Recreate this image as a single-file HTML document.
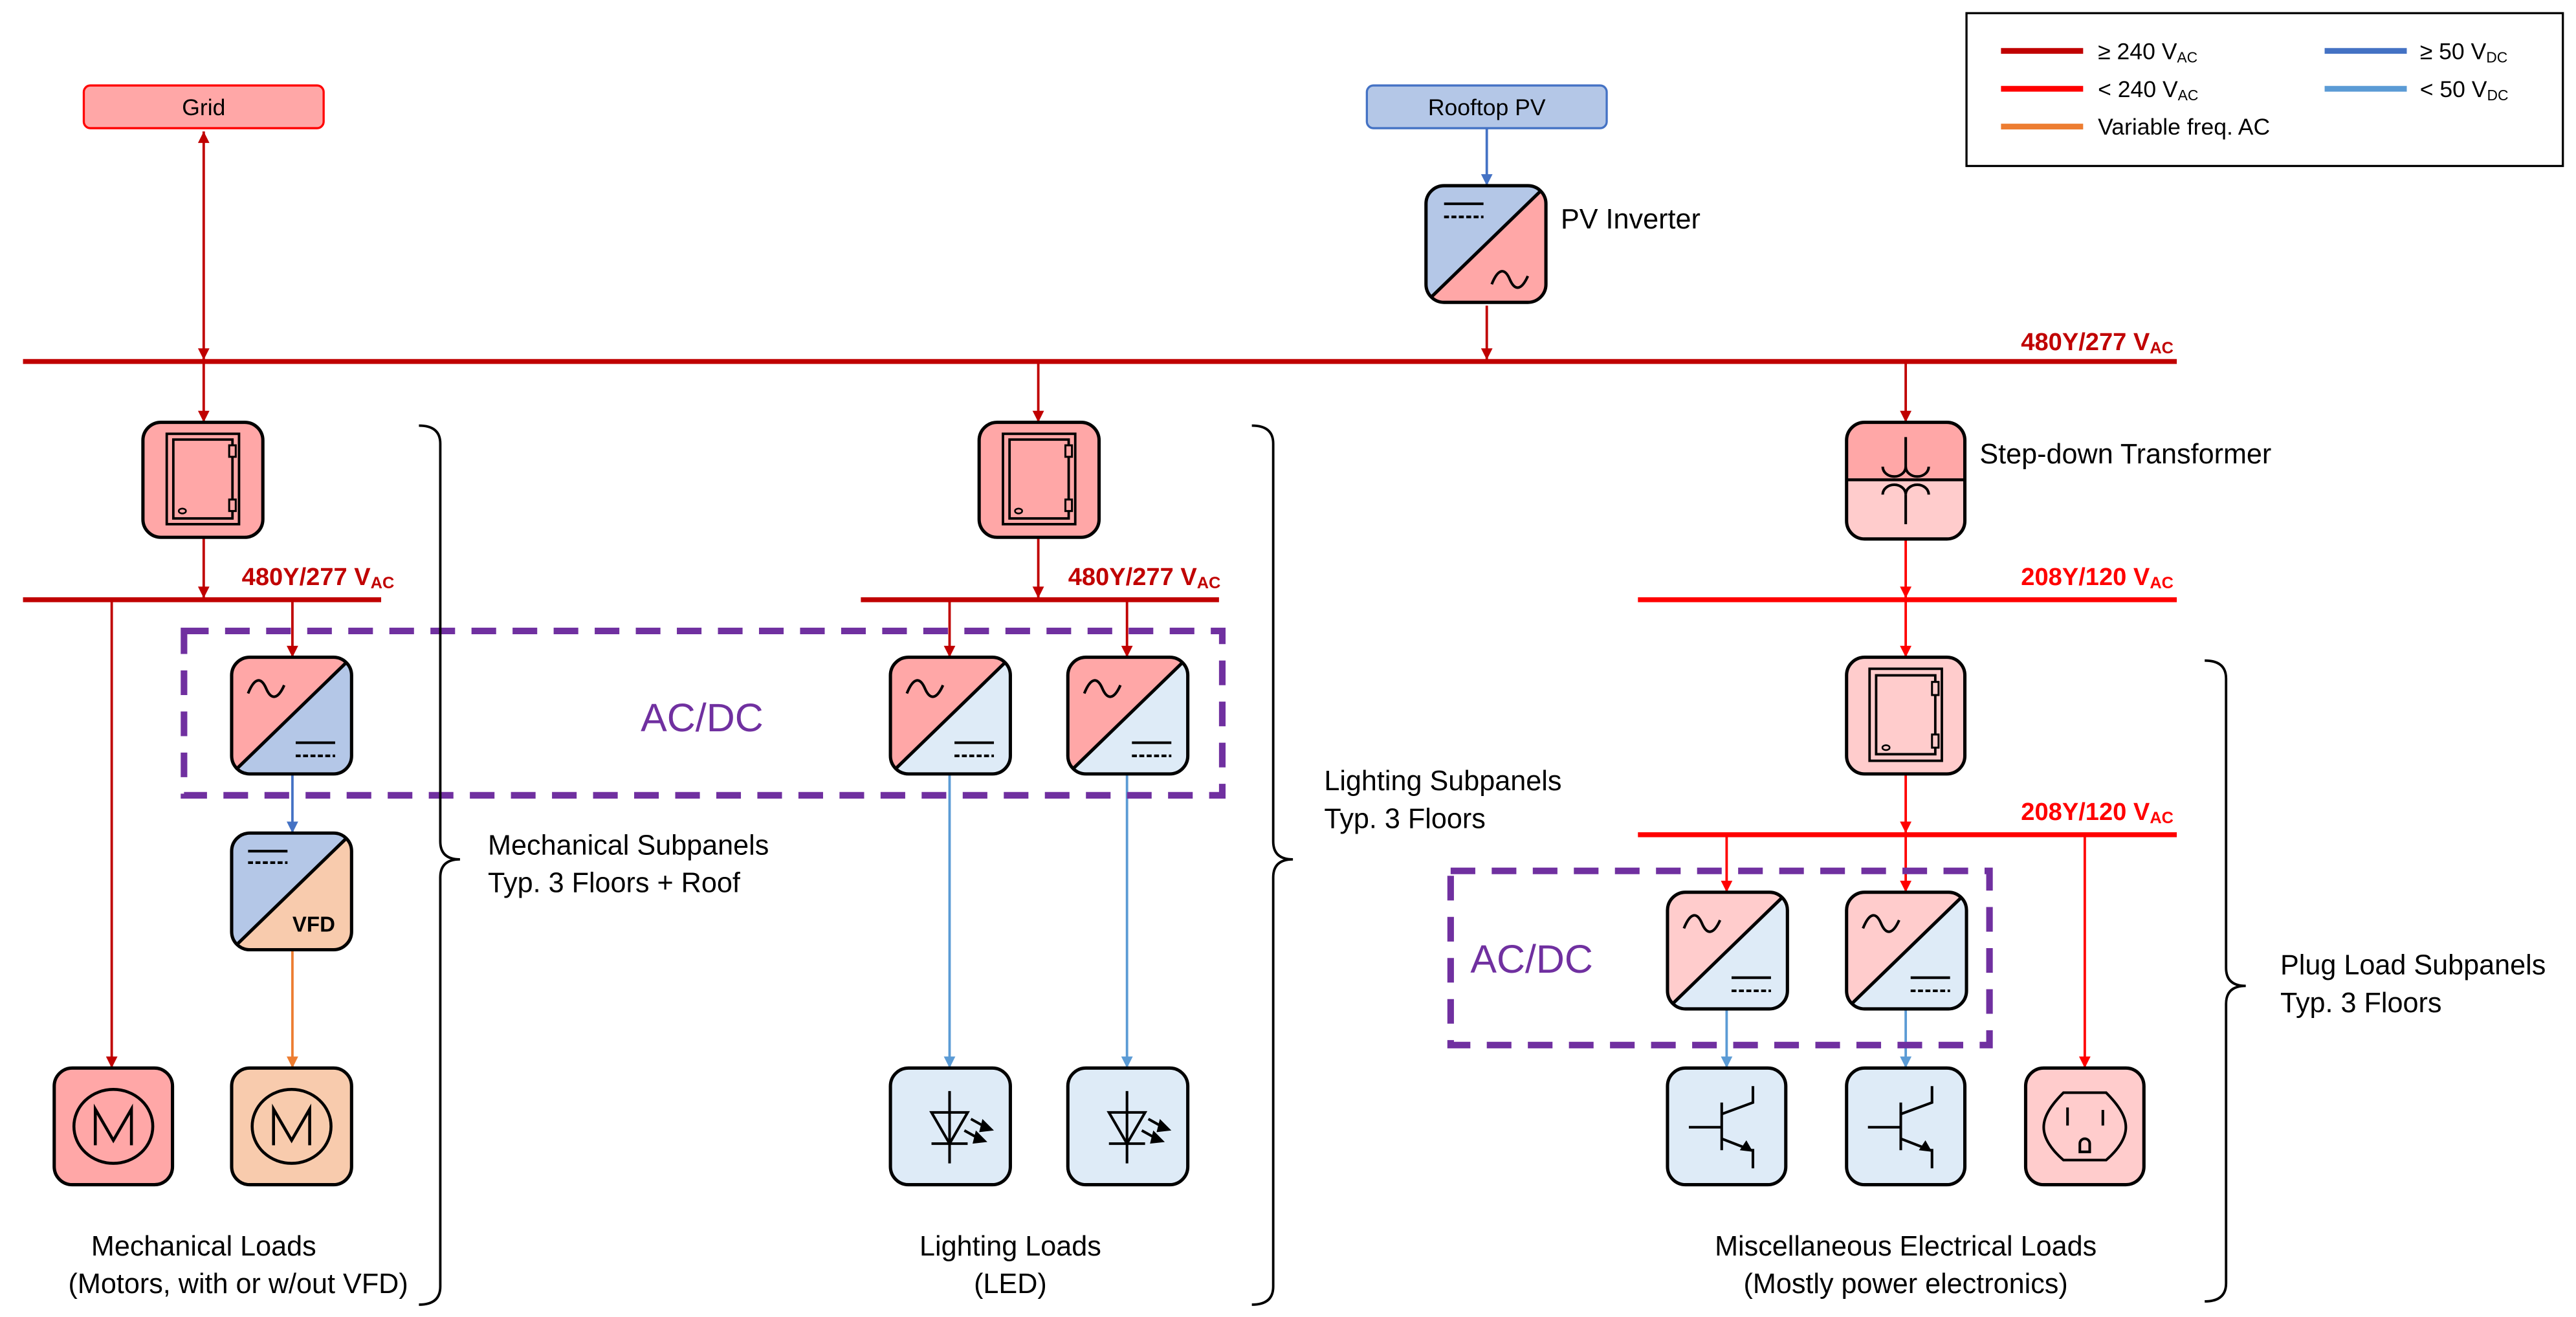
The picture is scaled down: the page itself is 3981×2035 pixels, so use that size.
<!DOCTYPE html>
<html><head><meta charset="utf-8"><style>
html,body{margin:0;padding:0;background:#fff;}
svg{display:block;}
text{font-family:"Liberation Sans",sans-serif;}
</style></head><body>
<svg width="3981" height="2035" viewBox="0 0 1568 801.5" xmlns="http://www.w3.org/2000/svg">
<defs>
<clipPath id="cb"><rect width="73" height="71" rx="11"/></clipPath>
<marker id="mDR" viewBox="0 0 10 10" refX="10" refY="5" markerWidth="8" markerHeight="7" markerUnits="userSpaceOnUse" orient="auto-start-reverse"><path d="M0,0L10,5L0,10z" fill="#c00000"/></marker>
<marker id="mR" viewBox="0 0 10 10" refX="10" refY="5" markerWidth="8" markerHeight="7" markerUnits="userSpaceOnUse" orient="auto-start-reverse"><path d="M0,0L10,5L0,10z" fill="#ff0000"/></marker>
<marker id="mB" viewBox="0 0 10 10" refX="10" refY="5" markerWidth="8" markerHeight="7" markerUnits="userSpaceOnUse" orient="auto-start-reverse"><path d="M0,0L10,5L0,10z" fill="#4472c4"/></marker>
<marker id="mLB" viewBox="0 0 10 10" refX="10" refY="5" markerWidth="8" markerHeight="7" markerUnits="userSpaceOnUse" orient="auto-start-reverse"><path d="M0,0L10,5L0,10z" fill="#5b9bd5"/></marker>
<marker id="mO" viewBox="0 0 10 10" refX="10" refY="5" markerWidth="8" markerHeight="7" markerUnits="userSpaceOnUse" orient="auto-start-reverse"><path d="M0,0L10,5L0,10z" fill="#ed7d31"/></marker>
</defs>

<!-- Legend -->
<rect x="1197" y="8" width="363" height="93" fill="#fff" stroke="#000" stroke-width="1.3"/>
<g stroke-width="3.5">
<line x1="1218" y1="31" x2="1268" y2="31" stroke="#c00000"/>
<line x1="1218" y1="54" x2="1268" y2="54" stroke="#ff0000"/>
<line x1="1218" y1="77" x2="1268" y2="77" stroke="#ed7d31"/>
<line x1="1415" y1="31" x2="1465" y2="31" stroke="#4472c4"/>
<line x1="1415" y1="54" x2="1465" y2="54" stroke="#5b9bd5"/>
</g>
<g font-size="14" fill="#000">
<text x="1277" y="36">≥ 240 V<tspan font-size="9" dy="2">AC</tspan></text>
<text x="1277" y="59">&lt; 240 V<tspan font-size="9" dy="2">AC</tspan></text>
<text x="1277" y="82">Variable freq. AC</text>
<text x="1473" y="36">≥ 50 V<tspan font-size="9" dy="2">DC</tspan></text>
<text x="1473" y="59">&lt; 50 V<tspan font-size="9" dy="2">DC</tspan></text>
</g>

<!-- Source boxes -->
<rect x="51" y="52" width="146" height="26" rx="4" fill="#ffa7a7" stroke="#ff0000" stroke-width="1.3"/>
<text x="124" y="70" font-size="14" text-anchor="middle">Grid</text>
<rect x="832" y="52" width="146" height="26" rx="4" fill="#b4c7e7" stroke="#4472c4" stroke-width="1.3"/>
<text x="905" y="70" font-size="14" text-anchor="middle">Rooftop PV</text>

<!-- Connectors -->
<g stroke-width="1.5" fill="none">
<line x1="124" y1="80" x2="124" y2="219" stroke="#c00000" marker-start="url(#mDR)" marker-end="url(#mDR)"/>
<line x1="124" y1="221" x2="124" y2="257" stroke="#c00000" marker-end="url(#mDR)"/>
<line x1="905" y1="78" x2="905" y2="113" stroke="#4472c4" marker-end="url(#mB)"/>
<line x1="905" y1="186" x2="905" y2="219" stroke="#c00000" marker-end="url(#mDR)"/>
<line x1="632" y1="221" x2="632" y2="257" stroke="#c00000" marker-end="url(#mDR)"/>
<line x1="1160" y1="221" x2="1160" y2="257" stroke="#c00000" marker-end="url(#mDR)"/>
<line x1="124" y1="327" x2="124" y2="364" stroke="#c00000" marker-end="url(#mDR)"/>
<line x1="632" y1="327" x2="632" y2="364" stroke="#c00000" marker-end="url(#mDR)"/>
<line x1="68" y1="366" x2="68" y2="650" stroke="#c00000" marker-end="url(#mDR)"/>
<line x1="178" y1="366" x2="178" y2="400" stroke="#c00000" marker-end="url(#mDR)"/>
<line x1="578" y1="366" x2="578" y2="400" stroke="#c00000" marker-end="url(#mDR)"/>
<line x1="686" y1="366" x2="686" y2="400" stroke="#c00000" marker-end="url(#mDR)"/>
<line x1="178" y1="471" x2="178" y2="507" stroke="#4472c4" marker-end="url(#mB)"/>
<line x1="178" y1="578" x2="178" y2="650" stroke="#ed7d31" marker-end="url(#mO)"/>
<line x1="578" y1="471" x2="578" y2="650" stroke="#5b9bd5" marker-end="url(#mLB)"/>
<line x1="686" y1="471" x2="686" y2="650" stroke="#5b9bd5" marker-end="url(#mLB)"/>
<line x1="1160" y1="328" x2="1160" y2="364" stroke="#ff0000" marker-end="url(#mR)"/>
<line x1="1160" y1="366" x2="1160" y2="400" stroke="#ff0000" marker-end="url(#mR)"/>
<line x1="1160" y1="471" x2="1160" y2="507" stroke="#ff0000" marker-end="url(#mR)"/>
<line x1="1051" y1="509" x2="1051" y2="543" stroke="#ff0000" marker-end="url(#mR)"/>
<line x1="1160" y1="509" x2="1160" y2="543" stroke="#ff0000" marker-end="url(#mR)"/>
<line x1="1269" y1="509" x2="1269" y2="650" stroke="#ff0000" marker-end="url(#mR)"/>
<line x1="1051" y1="613" x2="1051" y2="650" stroke="#5b9bd5" marker-end="url(#mLB)"/>
<line x1="1160" y1="613" x2="1160" y2="650" stroke="#5b9bd5" marker-end="url(#mLB)"/>
</g>

<!-- Buses -->
<g stroke-width="3">
<line x1="14" y1="220" x2="1325" y2="220" stroke="#c00000"/>
<line x1="14" y1="365" x2="232" y2="365" stroke="#c00000"/>
<line x1="524" y1="365" x2="742" y2="365" stroke="#c00000"/>
<line x1="997" y1="365" x2="1325" y2="365" stroke="#ff0000"/>
<line x1="997" y1="508" x2="1325" y2="508" stroke="#ff0000"/>
</g>
<g font-size="15" font-weight="bold" text-anchor="end">
<text x="1323" y="213" fill="#c00000">480Y/277 V<tspan font-size="10" dy="2">AC</tspan></text>
<text x="240" y="356" fill="#c00000">480Y/277 V<tspan font-size="10" dy="2">AC</tspan></text>
<text x="743" y="356" fill="#c00000">480Y/277 V<tspan font-size="10" dy="2">AC</tspan></text>
<text x="1323" y="356" fill="#ff0000">208Y/120 V<tspan font-size="10" dy="2">AC</tspan></text>
<text x="1323" y="499" fill="#ff0000">208Y/120 V<tspan font-size="10" dy="2">AC</tspan></text>
</g>

<!-- PV inverter -->
<g transform="translate(868,113)">
<rect width="73" height="71" rx="11" fill="#b4c7e7"/>
<polygon points="73,0 73,71 0,71" fill="#ffa7a7" clip-path="url(#cb)"/>
<line x1="3" y1="68" x2="70" y2="3" stroke="#000" stroke-width="2"/>
<rect width="73" height="71" rx="11" fill="none" stroke="#000" stroke-width="2"/>
<line x1="11" y1="11" x2="35" y2="11" stroke="#000" stroke-width="1.6"/>
<line x1="11" y1="19" x2="35" y2="19" stroke="#000" stroke-width="1.6" stroke-dasharray="3 1.5"/>
<path d="M40,60 C44,50 48,50 51,57 C54,64 58,64 62,55" stroke="#000" stroke-width="1.6" fill="none"/>
</g>
<text x="950" y="139" font-size="17">PV Inverter</text>

<!-- Panels -->
<g transform="translate(87,257)">
<rect width="73" height="70" rx="11" fill="#ffa7a7" stroke="#000" stroke-width="2"/>
<rect x="14.5" y="7" width="44" height="55" fill="none" stroke="#000" stroke-width="1.5"/>
<rect x="18.5" y="10.5" width="36" height="48" fill="none" stroke="#000" stroke-width="1.5"/>
<rect x="52.5" y="14" width="4" height="7" fill="#ffa7a7" stroke="#000" stroke-width="1.2"/>
<rect x="52.5" y="47" width="4" height="7" fill="#ffa7a7" stroke="#000" stroke-width="1.2"/>
<ellipse cx="24" cy="54" rx="2.2" ry="1.5" fill="none" stroke="#000" stroke-width="1"/>
</g>
<g transform="translate(596,257)">
<rect width="73" height="70" rx="11" fill="#ffa7a7" stroke="#000" stroke-width="2"/>
<rect x="14.5" y="7" width="44" height="55" fill="none" stroke="#000" stroke-width="1.5"/>
<rect x="18.5" y="10.5" width="36" height="48" fill="none" stroke="#000" stroke-width="1.5"/>
<rect x="52.5" y="14" width="4" height="7" fill="#ffa7a7" stroke="#000" stroke-width="1.2"/>
<rect x="52.5" y="47" width="4" height="7" fill="#ffa7a7" stroke="#000" stroke-width="1.2"/>
<ellipse cx="24" cy="54" rx="2.2" ry="1.5" fill="none" stroke="#000" stroke-width="1"/>
</g>
<g transform="translate(1124,400)">
<rect width="72" height="71" rx="11" fill="#ffcccc" stroke="#000" stroke-width="2"/>
<rect x="14" y="7" width="44" height="56" fill="none" stroke="#000" stroke-width="1.5"/>
<rect x="18" y="11" width="36" height="48" fill="none" stroke="#000" stroke-width="1.5"/>
<rect x="52" y="15" width="4" height="8" fill="#ffcccc" stroke="#000" stroke-width="1.2"/>
<rect x="52" y="47" width="4" height="8" fill="#ffcccc" stroke="#000" stroke-width="1.2"/>
<ellipse cx="24" cy="55" rx="2.2" ry="1.5" fill="none" stroke="#000" stroke-width="1"/>
</g>

<!-- Transformer -->
<g transform="translate(1124,257)">
<rect width="72" height="71" rx="11" fill="#ffcccc"/>
<path d="M0,35 V11 A11,11 0 0 1 11,0 H61 A11,11 0 0 1 72,11 V35 Z" fill="#ffa7a7"/>
<line x1="0" y1="35" x2="72" y2="35" stroke="#000" stroke-width="1.8"/>
<rect width="72" height="71" rx="11" fill="none" stroke="#000" stroke-width="2"/>
<g stroke="#000" stroke-width="1.6" fill="none">
<line x1="36" y1="9" x2="36" y2="28"/>
<path d="M22,27 A7,6 0 0 0 36,27 A7,6 0 0 0 50,27"/>
<path d="M22,44 A7,6 0 0 1 36,44 A7,6 0 0 1 50,44"/>
<line x1="36" y1="44" x2="36" y2="62"/>
</g>
</g>
<text x="1205" y="282" font-size="17">Step-down Transformer</text>

<!-- AC/DC converters -->
<g transform="translate(141,400)">
<rect width="73" height="71" rx="11" fill="#ffa7a7"/>
<polygon points="73,0 73,71 0,71" fill="#b4c7e7" clip-path="url(#cb)"/>
<line x1="3" y1="68" x2="70" y2="3" stroke="#000" stroke-width="2"/>
<rect width="73" height="71" rx="11" fill="none" stroke="#000" stroke-width="2"/>
<path d="M10,22 C14,12 18,12 21,19 C24,26 28,26 32,17" stroke="#000" stroke-width="1.6" fill="none"/>
<line x1="39" y1="52" x2="63" y2="52" stroke="#000" stroke-width="1.6"/>
<line x1="39" y1="60" x2="63" y2="60" stroke="#000" stroke-width="1.6" stroke-dasharray="3 1.5"/>
</g>
<g transform="translate(542,400)">
<rect width="73" height="71" rx="11" fill="#ffa7a7"/>
<polygon points="73,0 73,71 0,71" fill="#deebf7" clip-path="url(#cb)"/>
<line x1="3" y1="68" x2="70" y2="3" stroke="#000" stroke-width="2"/>
<rect width="73" height="71" rx="11" fill="none" stroke="#000" stroke-width="2"/>
<path d="M10,22 C14,12 18,12 21,19 C24,26 28,26 32,17" stroke="#000" stroke-width="1.6" fill="none"/>
<line x1="39" y1="52" x2="63" y2="52" stroke="#000" stroke-width="1.6"/>
<line x1="39" y1="60" x2="63" y2="60" stroke="#000" stroke-width="1.6" stroke-dasharray="3 1.5"/>
</g>
<g transform="translate(650,400)">
<rect width="73" height="71" rx="11" fill="#ffa7a7"/>
<polygon points="73,0 73,71 0,71" fill="#deebf7" clip-path="url(#cb)"/>
<line x1="3" y1="68" x2="70" y2="3" stroke="#000" stroke-width="2"/>
<rect width="73" height="71" rx="11" fill="none" stroke="#000" stroke-width="2"/>
<path d="M10,22 C14,12 18,12 21,19 C24,26 28,26 32,17" stroke="#000" stroke-width="1.6" fill="none"/>
<line x1="39" y1="52" x2="63" y2="52" stroke="#000" stroke-width="1.6"/>
<line x1="39" y1="60" x2="63" y2="60" stroke="#000" stroke-width="1.6" stroke-dasharray="3 1.5"/>
</g>
<g transform="translate(1015,543)">
<rect width="73" height="71" rx="11" fill="#ffcccc"/>
<polygon points="73,0 73,71 0,71" fill="#deebf7" clip-path="url(#cb)"/>
<line x1="3" y1="68" x2="70" y2="3" stroke="#000" stroke-width="2"/>
<rect width="73" height="71" rx="11" fill="none" stroke="#000" stroke-width="2"/>
<path d="M10,22 C14,12 18,12 21,19 C24,26 28,26 32,17" stroke="#000" stroke-width="1.6" fill="none"/>
<line x1="39" y1="52" x2="63" y2="52" stroke="#000" stroke-width="1.6"/>
<line x1="39" y1="60" x2="63" y2="60" stroke="#000" stroke-width="1.6" stroke-dasharray="3 1.5"/>
</g>
<g transform="translate(1124,543)">
<rect width="73" height="71" rx="11" fill="#ffcccc"/>
<polygon points="73,0 73,71 0,71" fill="#deebf7" clip-path="url(#cb)"/>
<line x1="3" y1="68" x2="70" y2="3" stroke="#000" stroke-width="2"/>
<rect width="73" height="71" rx="11" fill="none" stroke="#000" stroke-width="2"/>
<path d="M10,22 C14,12 18,12 21,19 C24,26 28,26 32,17" stroke="#000" stroke-width="1.6" fill="none"/>
<line x1="39" y1="52" x2="63" y2="52" stroke="#000" stroke-width="1.6"/>
<line x1="39" y1="60" x2="63" y2="60" stroke="#000" stroke-width="1.6" stroke-dasharray="3 1.5"/>
</g>

<!-- VFD -->
<g transform="translate(141,507)">
<rect width="73" height="71" rx="11" fill="#b4c7e7"/>
<polygon points="73,0 73,71 0,71" fill="#f8cbad" clip-path="url(#cb)"/>
<line x1="3" y1="68" x2="70" y2="3" stroke="#000" stroke-width="2"/>
<rect width="73" height="71" rx="11" fill="none" stroke="#000" stroke-width="2"/>
<line x1="10" y1="11" x2="34" y2="11" stroke="#000" stroke-width="1.6"/>
<line x1="10" y1="18" x2="34" y2="18" stroke="#000" stroke-width="1.6" stroke-dasharray="3 1.5"/>
<text x="50" y="60" font-size="13" font-weight="bold" text-anchor="middle">VFD</text>
</g>

<!-- Purple dashed boxes -->
<g fill="none" stroke="#7030a0" stroke-width="4" stroke-dasharray="15 10">
<rect x="112" y="384" width="632" height="100"/>
<rect x="883" y="530" width="328" height="106"/>
</g>
<text x="390" y="445" font-size="24" fill="#7030a0">AC/DC</text>
<text x="895" y="592" font-size="24" fill="#7030a0">AC/DC</text>

<!-- Motors -->
<g transform="translate(33,650)">
<rect width="72" height="71" rx="11" fill="#ffa7a7" stroke="#000" stroke-width="2"/>
<ellipse cx="36" cy="35.5" rx="24" ry="22.5" fill="none" stroke="#000" stroke-width="1.8"/>
<polyline points="25,47 25,25 36,44 47,25 47,47" fill="none" stroke="#000" stroke-width="1.8"/>
</g>
<g transform="translate(141,650)">
<rect width="73" height="71" rx="11" fill="#f8cbad" stroke="#000" stroke-width="2"/>
<ellipse cx="36.5" cy="35.5" rx="24" ry="22.5" fill="none" stroke="#000" stroke-width="1.8"/>
<polyline points="25.5,47 25.5,25 36.5,44 47.5,25 47.5,47" fill="none" stroke="#000" stroke-width="1.8"/>
</g>

<!-- LEDs -->
<g transform="translate(542,650)">
<rect width="73" height="71" rx="11" fill="#deebf7" stroke="#000" stroke-width="2"/>
<g stroke="#000" stroke-width="1.6" fill="none">
<line x1="36" y1="14" x2="36" y2="58"/>
<polygon points="25,27 47,27 36,46"/>
<line x1="25" y1="46" x2="47" y2="46"/>
<line x1="49" y1="31" x2="58" y2="36"/>
<line x1="45" y1="38" x2="54" y2="43"/>
</g>
<polygon points="56,31 63,38 54,39" fill="#000"/>
<polygon points="52,38 59,45 50,46" fill="#000"/>
</g>
<g transform="translate(650,650)">
<rect width="73" height="71" rx="11" fill="#deebf7" stroke="#000" stroke-width="2"/>
<g stroke="#000" stroke-width="1.6" fill="none">
<line x1="36" y1="14" x2="36" y2="58"/>
<polygon points="25,27 47,27 36,46"/>
<line x1="25" y1="46" x2="47" y2="46"/>
<line x1="49" y1="31" x2="58" y2="36"/>
<line x1="45" y1="38" x2="54" y2="43"/>
</g>
<polygon points="56,31 63,38 54,39" fill="#000"/>
<polygon points="52,38 59,45 50,46" fill="#000"/>
</g>

<!-- Transistors -->
<g transform="translate(1015,650)">
<rect width="72" height="71" rx="11" fill="#deebf7" stroke="#000" stroke-width="2"/>
<g stroke="#000" stroke-width="1.6" fill="none">
<line x1="13" y1="36" x2="33" y2="36"/>
<line x1="33" y1="21" x2="33" y2="50"/>
<polyline points="33,28 52,21 52,11"/>
<polyline points="33,43 51,50 52,50 52,61"/>
</g>
<polygon points="52,51 44,50 48,44" fill="#000"/>
</g>
<g transform="translate(1124,650)">
<rect width="72" height="71" rx="11" fill="#deebf7" stroke="#000" stroke-width="2"/>
<g stroke="#000" stroke-width="1.6" fill="none">
<line x1="13" y1="36" x2="33" y2="36"/>
<line x1="33" y1="21" x2="33" y2="50"/>
<polyline points="33,28 52,21 52,11"/>
<polyline points="33,43 51,50 52,50 52,61"/>
</g>
<polygon points="52,51 44,50 48,44" fill="#000"/>
</g>

<!-- Outlet -->
<g transform="translate(1233,650)">
<rect width="72" height="71" rx="11" fill="#ffcccc" stroke="#000" stroke-width="2"/>
<g stroke="#000" stroke-width="1.6" fill="none">
<path d="M23,15 H49 C56,22 61,29 61,36 C61,43 56,50 49,56 H23 C16,50 11,43 11,36 C11,29 16,22 23,15 Z"/>
<line x1="25.5" y1="24" x2="25.5" y2="35"/>
<line x1="47" y1="25.5" x2="47" y2="35"/>
<path d="M33,51 V46 A3,3 0 0 1 39,46 V51 Z"/>
</g>
</g>

<!-- Braces -->
<g fill="none" stroke="#000" stroke-width="1.5">
<path d="M255,259 Q268,259 268,270 V512 Q268,523 280,523 Q268,523 268,534 V783 Q268,794 255,794"/>
<path d="M762,259 Q775,259 775,270 V512 Q775,523 787,523 Q775,523 775,534 V783 Q775,794 762,794"/>
<path d="M1342,402 Q1355,402 1355,413 V589 Q1355,600 1367,600 Q1355,600 1355,611 V781 Q1355,792 1342,792"/>
</g>

<!-- Text labels -->
<g font-size="17" fill="#000">
<text x="297" y="520">Mechanical Subpanels</text>
<text x="297" y="543">Typ. 3 Floors + Roof</text>
<text x="806" y="481">Lighting Subpanels</text>
<text x="806" y="504">Typ. 3 Floors</text>
<text x="1388" y="593">Plug Load Subpanels</text>
<text x="1388" y="616">Typ. 3 Floors</text>
</g>
<g font-size="17" fill="#000" text-anchor="middle">
<text x="124" y="764">Mechanical Loads</text>
<text x="145" y="787">(Motors, with or w/out VFD)</text>
<text x="615" y="764">Lighting Loads</text>
<text x="615" y="787">(LED)</text>
<text x="1160" y="764">Miscellaneous Electrical Loads</text>
<text x="1160" y="787">(Mostly power electronics)</text>
</g>
</svg>
</body></html>
